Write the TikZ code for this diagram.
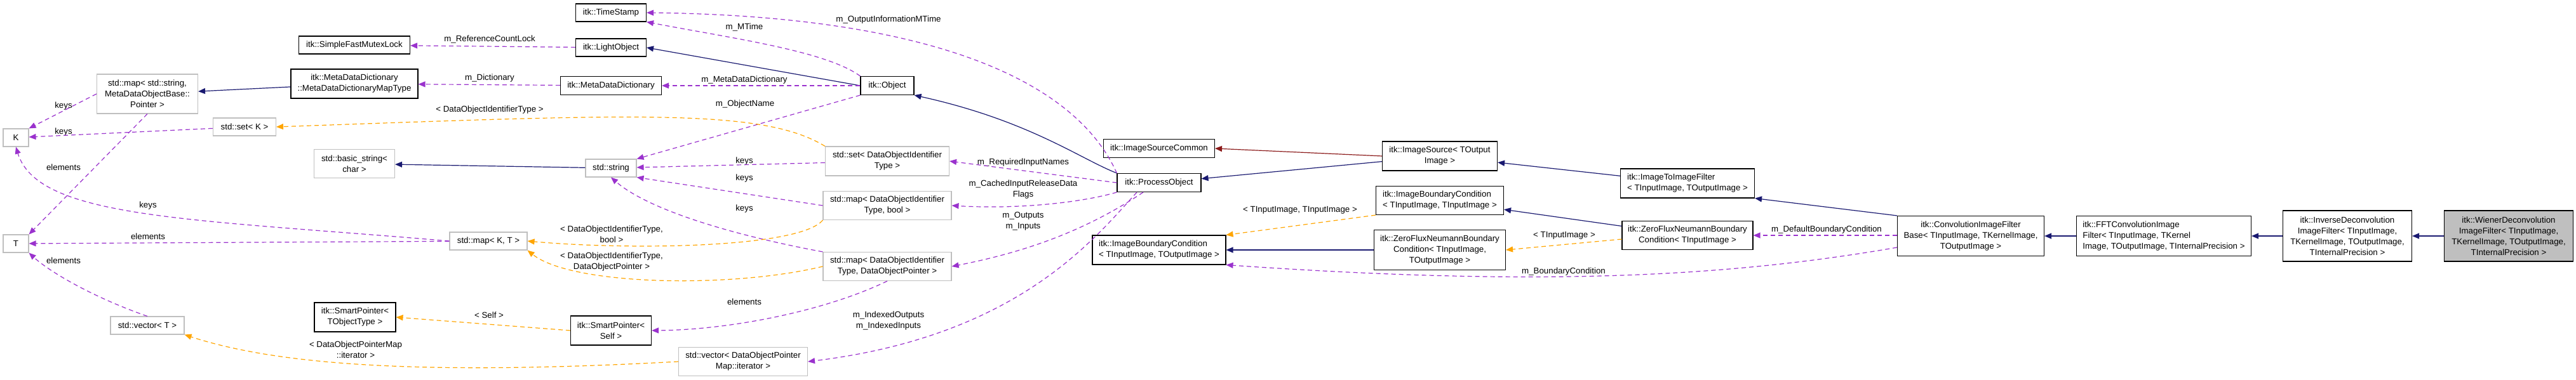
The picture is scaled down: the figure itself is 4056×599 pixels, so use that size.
\documentclass[tikz,border=0pt]{standalone}
\usepackage{fontspec}
\setmainfont{Liberation Sans}
\usetikzlibrary{arrows.meta}
\definecolor{inh}{HTML}{191970}
\definecolor{use}{HTML}{9A32CD}
\definecolor{tmpl}{HTML}{FFA500}
\definecolor{prot}{HTML}{8B1A1A}
\definecolor{gbd}{HTML}{BFBFBF}
\begin{document}
\begin{tikzpicture}[x=1pt,y=-1pt,
  font=\fontsize{13.3pt}{17pt}\selectfont,
  box/.style={draw=black,line width=1.1pt,inner sep=0pt,align=center,fill=white},
  gbox/.style={box,draw=gbd},
  lbl/.style={inner sep=0pt,align=center,fill=none},
  tip/.style={-{Triangle[length=11pt,width=9pt]}},
  inhe/.style={tip,draw=inh,line width=1.2pt},
  red/.style={tip,draw=prot,line width=1.2pt},
  usee/.style={tip,draw=use,line width=1.2pt,dash pattern=on 7pt off 5pt},
  tmple/.style={tip,draw=tmpl,line width=1.2pt,dash pattern=on 7pt off 5pt},
]
\useasboundingbox (0,0) rectangle (4056,599);
% nodes
\node[box,minimum width=175pt,minimum height=28pt] (mutex) at (558,71) {itk::SimpleFastMutexLock};
\node[box,minimum width=200pt,minimum height=46pt] (maptype) at (558,132) {itk::MetaDataDictionary\\::MetaDataDictionaryMapType};
\node[gbox,minimum width=159pt,minimum height=62pt] (mapstr) at (232,148) {std::map{\textless} std::string,\\MetaDataObjectBase::\\Pointer {\textgreater}};
\node[gbox,minimum width=40pt,minimum height=28pt] (K) at (25,217) {K};
\node[gbox,minimum width=99pt,minimum height=28pt] (setK) at (385,200) {std::set{\textless} K {\textgreater}};
\node[gbox,minimum width=127pt,minimum height=45pt] (bstr) at (558,258) {std::basic\_string{\textless}\\char {\textgreater}};
\node[gbox,minimum width=40pt,minimum height=28pt] (T) at (25,384) {T};
\node[gbox,minimum width=116pt,minimum height=28pt] (vecT) at (232,513) {std::vector{\textless} T {\textgreater}};
\node[box,minimum width=128pt,minimum height=46pt] (spObj) at (559,500) {itk::SmartPointer{\textless}\\TObjectType {\textgreater}};
\node[box,minimum width=111pt,minimum height=28pt] (ts) at (962,20) {itk::TimeStamp};
\node[box,minimum width=111pt,minimum height=28pt] (light) at (962,75) {itk::LightObject};
\node[box,minimum width=159pt,minimum height=29pt] (mdd) at (962,135) {itk::MetaDataDictionary};
\node[gbox,minimum width=80pt,minimum height=28pt] (str) at (962,265) {std::string};
\node[gbox,minimum width=122pt,minimum height=28pt] (mapKT) at (769,380) {std::map{\textless} K, T {\textgreater}};
\node[box,minimum width=127pt,minimum height=46pt] (spSelf) at (962,521) {itk::SmartPointer{\textless}\\Self {\textgreater}};
\node[gbox,minimum width=203pt,minimum height=45pt] (vecIt) at (1170,570) {std::vector{\textless} DataObjectPointer\\Map::iterator {\textgreater}};
\node[box,minimum width=84pt,minimum height=29pt] (obj) at (1397,135) {itk::Object};
\node[gbox,minimum width=195pt,minimum height=46pt] (setD) at (1397,254) {std::set{\textless} DataObjectIdentifier\\Type {\textgreater}};
\node[gbox,minimum width=202pt,minimum height=45pt] (mapB) at (1397,324) {std::map{\textless} DataObjectIdentifier\\Type, bool {\textgreater}};
\node[gbox,minimum width=202pt,minimum height=45pt] (mapP) at (1397,420) {std::map{\textless} DataObjectIdentifier\\Type, DataObjectPointer {\textgreater}};
\node[box,minimum width=175pt,minimum height=29pt] (isc) at (1825,234) {itk::ImageSourceCommon};
\node[box,minimum width=132pt,minimum height=29pt] (po) at (1825,288) {itk::ProcessObject};
\node[box,minimum width=210pt,minimum height=46pt,align=left] (ibcIO) at (1825,394) {itk::ImageBoundaryCondition\\{\textless} TInputImage, TOutputImage {\textgreater}};
\node[box,minimum width=181pt,minimum height=46pt] (is) at (2267,246) {itk::ImageSource{\textless} TOutput\\Image {\textgreater}};
\node[box,minimum width=201pt,minimum height=45pt,align=left] (ibcII) at (2267,316) {itk::ImageBoundaryCondition\\{\textless} TInputImage, TInputImage {\textgreater}};
\node[box,minimum width=207pt,minimum height=63pt] (zfIO) at (2267,394) {itk::ZeroFluxNeumannBoundary\\Condition{\textless} TInputImage,\\TOutputImage {\textgreater}};
\node[box,minimum width=211pt,minimum height=46pt,align=left] (i2i) at (2657,289) {itk::ImageToImageFilter\\{\textless} TInputImage, TOutputImage {\textgreater}};
\node[box,minimum width=206pt,minimum height=45pt] (zfI) at (2657,371) {itk::ZeroFluxNeumannBoundary\\Condition{\textless} TInputImage {\textgreater}};
\node[box,minimum width=231pt,minimum height=63pt] (conv) at (3103,372) {itk::ConvolutionImageFilter\\Base{\textless} TInputImage, TKernelImage,\\TOutputImage {\textgreater}};
\node[box,minimum width=275pt,minimum height=63pt,align=left] (fft) at (3407,372) {itk::FFTConvolutionImage\\Filter{\textless} TInputImage, TKernel\\Image, TOutputImage, TInternalPrecision {\textgreater}};
\node[box,minimum width=203pt,minimum height=80pt] (inv) at (3696,372) {itk::InverseDeconvolution\\ImageFilter{\textless} TInputImage,\\TKernelImage, TOutputImage,\\TInternalPrecision {\textgreater}};
\node[box,fill=gbd,minimum width=203pt,minimum height=80pt] (wie) at (3950,372) {itk::WienerDeconvolution\\ImageFilter{\textless} TInputImage,\\TKernelImage, TOutputImage,\\TInternalPrecision {\textgreater}};
% labels
\node[lbl] (l1) at (771,62) {m\_ReferenceCountLock};
\node[lbl] (l2) at (771,123) {m\_Dictionary};
\node[lbl] (l3) at (1172,43) {m\_MTime};
\node[lbl] (l4) at (1399,31) {m\_OutputInformationMTime};
\node[lbl] (l5) at (1172,126) {m\_MetaDataDictionary};
\node[lbl] (l6) at (1173,164) {m\_ObjectName};
\node[lbl] (l7) at (1172,254) {keys};
\node[lbl] (l8) at (1172,281) {keys};
\node[lbl] (l9) at (1172,329) {keys};
\node[lbl] (l10) at (100,167) {keys};
\node[lbl] (l11) at (100,208) {keys};
\node[lbl] (l12) at (100,264) {elements};
\node[lbl] (l13) at (233,324) {keys};
\node[lbl] (l14) at (233,373) {elements};
\node[lbl] (l15) at (100,411) {elements};
\node[lbl] (l16) at (1611,256) {m\_RequiredInputNames};
\node[lbl] (l17) at (1611,299) {m\_CachedInputReleaseData\\Flags};
\node[lbl] (l18) at (1611,349) {m\_Outputs\\m\_Inputs};
\node[lbl] (l19) at (1399,506) {m\_IndexedOutputs\\m\_IndexedInputs};
\node[lbl] (l20) at (1172,476) {elements};
\node[lbl] (l21) at (2876,362) {m\_DefaultBoundaryCondition};
\node[lbl] (l22) at (2462,428) {m\_BoundaryCondition};
\node[lbl] (l23) at (771,173) {{\textless} DataObjectIdentifierType {\textgreater}};
\node[lbl] (l24) at (963,369) {{\textless} DataObjectIdentifierType,\\bool {\textgreater}};
\node[lbl] (l25) at (963,413) {{\textless} DataObjectIdentifierType,\\DataObjectPointer {\textgreater}};
\node[lbl] (l26) at (770,497) {{\textless} Self {\textgreater}};
\node[lbl] (l27) at (560,551) {{\textless} DataObjectPointerMap\\::iterator {\textgreater}};
\node[lbl] (l28) at (2047,331) {{\textless} TInputImage, TInputImage {\textgreater}};
\node[lbl] (l29) at (2463,371) {{\textless} TInputImage {\textgreater}};
% inheritance
\draw[inhe] (maptype) -- (mapstr);
\draw[inhe] (obj.west) -- (light.east);
\draw[inhe] (str) -- (bstr);
\draw[inhe] (po.north west) .. controls (1700,250) and (1620,190) .. (obj.south east);
\draw[inhe] (is) -- (po);
\draw[red] (is.west) -- (isc.east);
\draw[inhe] (i2i) -- (is);
\draw[inhe] (conv.north west) -- (i2i.south east);
\draw[inhe] (fft) -- (conv);
\draw[inhe] (inv) -- (fft);
\draw[inhe] (wie) -- (inv);
\draw[inhe] (zfI) -- (ibcII);
\draw[inhe] (zfIO) -- (ibcIO);
% usage
\draw[usee] (light) -- (mutex);
\draw[usee] (mdd) -- (maptype);
\draw[usee] (obj.north west) .. controls (1300,80) and (1150,60) .. (ts.south east);
\draw[usee] (po.north west) .. controls (1690,120) and (1450,25) .. (ts.east);
\draw[usee] (obj) -- (mdd);
\draw[usee] (obj.south west) -- (str.north east);
\draw[usee] (setD) -- (str);
\draw[usee] (mapB.west) -- (str.south east);
\draw[usee] (mapP.north west) .. controls (1150,370) and (1020,330) .. (str.south);
\draw[usee] (mapstr.west) -- (K.north east);
\draw[usee] (setK) -- (K);
\draw[usee] (mapstr.south) -- (T.north east);
\draw[usee] (mapKT.west) .. controls (300,345) and (60,345) .. (K.south);
\draw[usee] (mapKT) -- (T);
\draw[usee] (vecT.north) .. controls (150,470) and (80,430) .. (T.south east);
\draw[usee] (po.west) -- (setD.east);
\draw[usee] (po.south west) .. controls (1700,320) and (1600,330) .. (mapB.east);
\draw[usee] (po.south) ++(-25,0) .. controls (1700,370) and (1600,400) .. (mapP.east);
\draw[usee] (po.south) ++(-35,0) .. controls (1720,380) and (1600,530) .. (vecIt.east);
\draw[usee] (mapP.south) .. controls (1300,490) and (1150,520) .. (spSelf.east);
\draw[usee] (conv.west |- zfI) -- (zfI.east);
\draw[usee] (conv.west) ++(0,18) .. controls (2700,440) and (2400,450) .. (ibcIO.south east);
% templates
\draw[tmple] (setD.north west) .. controls (1200,170) and (1000,180) .. (setK.east);
\draw[tmple] (mapB.south west) .. controls (1260,390) and (1000,395) .. (mapKT.east);
\draw[tmple] (mapP.west) .. controls (1150,455) and (900,450) .. (mapKT.south east);
\draw[tmple] (spSelf.west) -- (spObj.east);
\draw[tmple] (vecIt.west) .. controls (700,590) and (450,580) .. (vecT.south east);
\draw[tmple] (ibcII.south west) -- (ibcIO.north east);
\draw[tmple] (zfI.west) ++(0,6) -- (zfIO.east);
\end{tikzpicture}
\end{document}
